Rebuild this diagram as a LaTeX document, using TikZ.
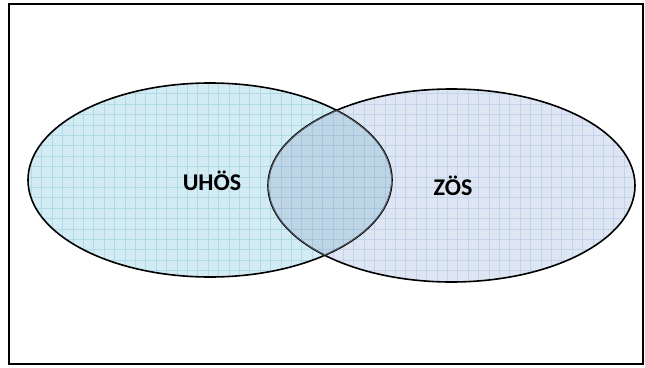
\documentclass[tikz,border=0pt]{standalone}
\usepackage{fontspec}
\setmainfont{Carlito}
\definecolor{uhoesfill}{HTML}{D3ECF3}
\definecolor{uhoesgrid}{HTML}{AFDAE6}
\definecolor{zoesfill}{HTML}{DDE6F2}
\definecolor{zoesgrid}{HTML}{C2D3EA}
\definecolor{bothfill}{HTML}{BED5E5}
\definecolor{bothgrid}{HTML}{A6C4DB}
\definecolor{inner}{HTML}{5E6872}
\begin{document}
\begin{tikzpicture}[x=1pt,y=-1pt,
    set/.style={line width=1.6pt},
    lbl/.style={font=\bfseries\fontsize{24}{28}\selectfont}]
\useasboundingbox (0,0) rectangle (645,367);
\draw[line width=1.5pt] (9,4) rectangle (643,364);
% UHÖS
\begin{scope}
    \clip (210,180) ellipse [x radius=182, y radius=97];
    \fill[uhoesfill] (0,0) rectangle (645,367);
    \draw[uhoesgrid, line width=.5pt, step=10.4pt] (0,0) grid (645,367);
\end{scope}
% ZÖS
\begin{scope}
    \clip (451.5,185.5) ellipse [x radius=183.5, y radius=96.5];
    \fill[zoesfill] (0,0) rectangle (645,367);
    \draw[zoesgrid, line width=.5pt, step=10.4pt] (0,0) grid (645,367);
\end{scope}
% overlap
\begin{scope}
    \clip (210,180) ellipse [x radius=182, y radius=97];
    \clip (451.5,185.5) ellipse [x radius=183.5, y radius=96.5];
    \fill[bothfill] (0,0) rectangle (645,367);
    \draw[bothgrid, line width=.5pt, step=10.4pt] (0,0) grid (645,367);
\end{scope}
\draw[set] (210,180) ellipse [x radius=182, y radius=97];
\draw[set] (451.5,185.5) ellipse [x radius=183.5, y radius=96.5];
\begin{scope}
    \clip (210,180) ellipse [x radius=182, y radius=97];
    \clip (451.5,185.5) ellipse [x radius=183.5, y radius=96.5];
    \draw[set, inner] (210,180) ellipse [x radius=182, y radius=97];
    \draw[set, inner] (451.5,185.5) ellipse [x radius=183.5, y radius=96.5];
\end{scope}
\node[lbl] (uhoes) at (212,181) {UHÖS};
\node[lbl] (zoes) at (453,186) {ZÖS};
\end{tikzpicture}
\end{document}
